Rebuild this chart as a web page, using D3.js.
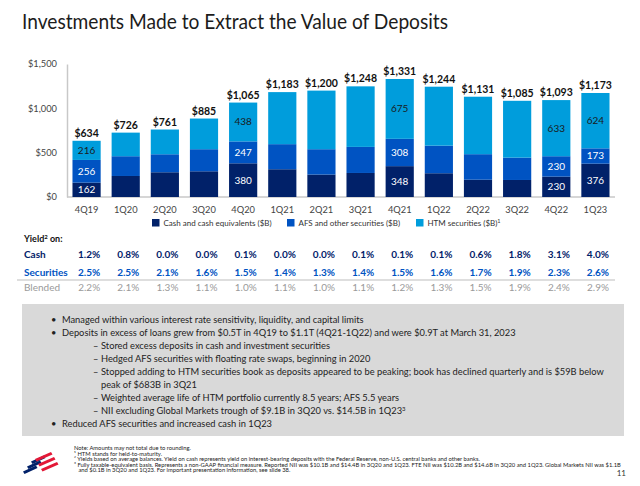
<!DOCTYPE html>
<html><head><meta charset="utf-8">
<script src="https://cdn.jsdelivr.net/npm/d3@7/dist/d3.min.js"></script>
<style>
html,body{margin:0;padding:0;background:#fff;}
svg{display:block;font-family:Lato,"Noto Sans",sans-serif;}
</style></head>
<body>
<svg id="c" width="640" height="486"></svg>
<script>
const quarters = ["4Q19","1Q20","2Q20","3Q20","4Q20","1Q21","2Q21","3Q21","4Q21","1Q22","2Q22","3Q22","4Q22","1Q23"];
const cash = [162,237,279,290,380,313,253,271,348,268,195,192,230,376];
const afs  = [256,223,203,249,247,283,286,294,308,311,288,252,230,173];
const htm  = [216,266,279,346,438,587,661,683,675,665,648,641,633,624];
const totals = [634,726,761,885,1065,1183,1200,1248,1331,1244,1131,1085,1093,1173];
const labeledQuarters = ["4Q19","4Q20","4Q21","4Q22","1Q23"];
const yTicks = [0,500,1000,1500];
const seriesNames = ["Cash and cash equivalents ($B)","AFS and other securities ($B)","HTM securities ($B)"];
const cashYield = [1.2,0.8,0.0,0.0,0.1,0.0,0.0,0.1,0.1,0.1,0.6,1.8,3.1,4.0];
const secYield  = [2.5,2.5,2.1,1.6,1.5,1.4,1.3,1.4,1.5,1.6,1.7,1.9,2.3,2.6];
const blendYield= [2.2,2.1,1.3,1.1,1.0,1.1,1.0,1.1,1.2,1.3,1.5,1.9,2.4,2.9];
const bullets = [
  {lvl:0, t:"Managed within various interest rate sensitivity, liquidity, and capital limits"},
  {lvl:0, t:"Deposits in excess of loans grew from $0.5T in 4Q19 to $1.1T (4Q21-1Q22) and were $0.9T at March 31, 2023"},
  {lvl:1, t:"Stored excess deposits in cash and investment securities"},
  {lvl:1, t:"Hedged AFS securities with floating rate swaps, beginning in 2020"},
  {lvl:1, t:"Stopped adding to HTM securities book as deposits appeared to be peaking; book has declined quarterly and is $59B below"},
  {lvl:2, t:"peak of $683B in 3Q21"},
  {lvl:1, t:"Weighted average life of HTM portfolio currently 8.5 years; AFS 5.5 years"},
  {lvl:1, t:"NII excluding Global Markets trough of $9.1B in 3Q20 vs. $14.5B in 1Q23", sup:"3"},
  {lvl:0, t:"Reduced AFS securities and increased cash in 1Q23"}
];
const footnotes = [
  "Note: Amounts may not total due to rounding.",
  "\u00B9 HTM stands for held-to-maturity.",
  "\u00B2 Yields based on average balances. Yield on cash represents yield on interest-bearing deposits with the Federal Reserve, non-U.S. central banks and other banks.",
  "\u00B3 Fully taxable-equivalent basis. Represents a non-GAAP financial measure. Reported NII was $10.1B and $14.4B in 3Q20 and 1Q23. FTE NII was $10.2B and $14.6B in 3Q20 and 1Q23. Global Markets NII was $1.1B",
  "   and $0.1B in 3Q20 and 1Q23. For important presentation information, see slide 38."
];

const colors = ["#012169","#0053C2","#009DDC"];
const svg = d3.select("#c");

// Title
svg.append("text").attr("x",22).attr("y",29).attr("font-size",22).attr("fill","#1c1c1c")
  .attr("textLength",426).attr("lengthAdjust","spacingAndGlyphs")
  .text("Investments Made to Extract the Value of Deposits");

const x = d3.scaleBand().domain(quarters).range([67,615]).paddingInner(0.28).paddingOuter(0.14);
const y = d3.scaleLinear().domain([0,1500]).range([197,64]);

// Axes
const yAxis = svg.append("g").attr("transform","translate(67,0)")
  .call(d3.axisLeft(y).tickValues(yTicks).tickSize(0).tickPadding(10).tickFormat(d=>"$"+d3.format(",")(d)));
yAxis.select(".domain").attr("stroke","#c8c8c8").attr("stroke-width",1.5);
yAxis.selectAll("text").attr("font-size",9.3).attr("fill","#444").attr("font-family","Lato,sans-serif");

const xAxis = svg.append("g").attr("transform","translate(0,197)")
  .call(d3.axisBottom(x).tickSize(0).tickPadding(9));
xAxis.select(".domain").attr("stroke","#c8c8c8").attr("stroke-width",1.5).attr("d","M67,0H615");
xAxis.selectAll("text").attr("font-size",9.3).attr("fill","#444").attr("font-family","Lato,sans-serif");

// Stack
const rows = quarters.map((q,i)=>({q, cash:cash[i], afs:afs[i], htm:htm[i]}));
const stack = d3.stack().keys(["cash","afs","htm"])(rows);
const g = svg.append("g");
stack.forEach((layer,li)=>{
  g.selectAll(null).data(layer).enter().append("rect")
    .attr("x",d=>x(d.data.q)).attr("width",x.bandwidth())
    .attr("y",d=>y(d[1])).attr("height",d=>y(d[0])-y(d[1]))
    .attr("fill",colors[li]);
  g.selectAll(null).data(layer.filter(d=>labeledQuarters.includes(d.data.q))).enter().append("text")
    .attr("x",d=>x(d.data.q)+x.bandwidth()/2)
    .attr("y",d=>(y(d[0])+y(d[1]))/2+3.5)
    .attr("text-anchor","middle").attr("font-size",10)
    .attr("fill",li===2?"#1a1a1a":"#fff")
    .text(d=>d[1]-d[0]);
});
// Totals
svg.selectAll(null).data(quarters).enter().append("text")
  .attr("x",d=>x(d)+x.bandwidth()/2).attr("y",(d,i)=>y(totals[i])-4)
  .attr("text-anchor","middle").attr("font-size",10.5).attr("font-weight","bold").attr("fill","#111")
  .text((d,i)=>"$"+d3.format(",")(totals[i]));

// Legend
const legX = [152,287,416];
seriesNames.forEach((n,i)=>{
  svg.append("rect").attr("x",legX[i]).attr("y",219).attr("width",7.5).attr("height",7.5).attr("fill",colors[i]);
  const t = svg.append("text").attr("x",legX[i]+11.5).attr("y",226).attr("font-size",8).attr("fill","#333").text(n);
  if(i===2) t.append("tspan").attr("dy",-3.5).attr("font-size",5.5).text("1");
});

// Yield table
const yt = svg.append("text").attr("x",24).attr("y",242).attr("font-size",9).attr("font-weight","bold").attr("fill","#111").text("Yield");
yt.append("tspan").attr("dy",-3).attr("font-size",6).text("2");
yt.append("tspan").attr("dy",3).text(" on:");
const fmt = d=>d3.format(".1f")(d)+"%";
const tableRows = [
  {label:"Cash", vals:cashYield, y:258, color:"#012169", bold:true},
  {label:"Securities", vals:secYield, y:275.5, color:"#0053C2", bold:true},
  {label:"Blended", vals:blendYield, y:291, color:"#9a9a9a", bold:false}
];
tableRows.forEach(r=>{
  svg.append("text").attr("x",24).attr("y",r.y).attr("font-size",10).attr("font-weight",r.bold?"bold":"normal").attr("fill",r.color).text(r.label);
  svg.selectAll(null).data(quarters).enter().append("text")
    .attr("x",d=>x(d)+x.bandwidth()-0.5).attr("y",r.y).attr("text-anchor","end")
    .attr("font-size",10).attr("font-weight",r.bold?"bold":"normal").attr("fill",r.color)
    .text((d,i)=>fmt(r.vals[i]));
});
svg.append("line").attr("x1",17).attr("x2",615).attr("y1",280).attr("y2",280).attr("stroke","#bdbdbd").attr("stroke-width",1.2);

// Grey box
svg.append("rect").attr("x",22).attr("y",304).attr("width",602).attr("height",132).attr("fill","#d9d9d9");
bullets.forEach((b,i)=>{
  const yy = 323 + i*13;
  if(b.lvl===0) svg.append("text").attr("x",51).attr("y",yy).attr("font-size",9.3).attr("fill","#222").text("\u2022");
  if(b.lvl===1) svg.append("text").attr("x",93).attr("y",yy).attr("font-size",9.3).attr("fill","#222").text("\u2013");
  const tx = b.lvl===0?62:101;
  const t = svg.append("text").attr("x",tx).attr("y",yy).attr("font-size",9.3).attr("fill","#222").text(b.t);
  if(b.sup) t.append("tspan").attr("dy",-3).attr("font-size",6).text(b.sup);
});

// Footnotes
footnotes.forEach((f,i)=>{
  svg.append("text").attr("x",74).attr("y",450+i*5.6).attr("font-size",5.8).attr("fill","#222").attr("xml:space","preserve").text(f);
});
svg.append("text").attr("x",626).attr("y",476).attr("text-anchor","end").attr("font-size",8).attr("fill","#333").text("11");

// Logo (decorative)
const logo = svg.append("g").attr("transform","translate(23,451)");
const navyStripes = [[0,17],[4,12],[8,7]];
navyStripes.forEach(([dx,dy])=>{
  logo.append("path").attr("d",`M${dx},${dy+3.5} L${dx+13},${dy-2.5} L${dx+14.5},${dy} L${dx+1.5},${dy+6} Z`).attr("fill","#012169");
});
const redStripes = [[12,6],[15,11],[18,16]];
redStripes.forEach(([dx,dy])=>{
  logo.append("path").attr("d",`M${dx},${dy+2} L${dx+16},${dy-5} L${dx+17.5},${dy-2.5} L${dx+1.5},${dy+4.5} Z`).attr("fill","#E31837");
});
</script>
</body></html>
